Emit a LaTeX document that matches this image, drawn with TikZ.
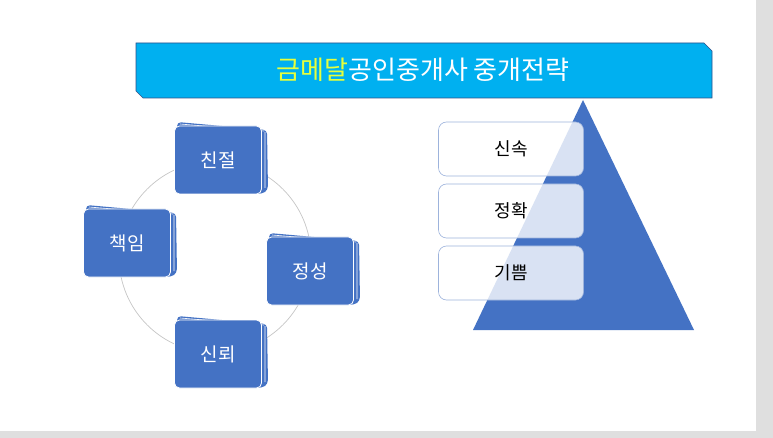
\documentclass[tikz,border=0pt]{standalone}
\usepackage{fontspec}
\setmainfont{Noto Sans CJK KR}
\begin{document}
\begin{tikzpicture}[x=1pt,y=-1pt,
  cube/.style={fill=cubeblue,draw=white,line width=0.8pt,rounded corners=5pt,minimum width=87pt,minimum height=68pt,text=white,font=\fontsize{19}{19}\selectfont},
  tier/.style={fill=white,fill opacity=0.8,text opacity=1,draw=tierborder,line width=0.6pt,rounded corners=8pt,minimum width=145pt,minimum height=54pt,font=\fontsize{18}{18}\selectfont}]
\definecolor{cubeblue}{HTML}{4472C4}
\definecolor{banner}{HTML}{00B0F0}
\definecolor{tierborder}{HTML}{9DB3DC}
\fill[white] (0,0) rectangle (773,438);
\fill[gray!25] (756,0) rectangle (773,438);
\fill[gray!25] (0,431) rectangle (773,438);
% banner
\draw[fill=banner,draw=cubeblue!70!black,line width=0.6pt] (136,43) -- (704,43) -- (712,51) -- (712,98) -- (143,98) -- (136,91) -- cycle;
\node[font=\fontsize{26}{26}\selectfont,text=white] (title) at (423,70) {\textcolor[HTML]{E6FF3C}{금메달}공인중개사 중개전략};
% circle
\draw[gray!45,line width=0.7pt] (215,257) circle (96);
% cubes
\foreach \n/\x/\y/\t in {a/218/160/친절, b/127/243/책임, c/310/271/정성, d/218/354/신뢰}{
  \fill[cubeblue,rounded corners=4pt] (\x-41,\y-38) -- (\x+49,\y-30) -- (\x+50,\y+30) -- (\x+44,\y+34) -- (\x-40,\y+30) -- cycle;
  \draw[white,line width=0.6pt] (\x-38,\y-36) -- (\x+46,\y-29) (\x+47,\y-28) -- (\x+47,\y+28);
  \node[cube] (\n) at (\x,\y) {\t};
}
% pyramid
\fill[cubeblue] (583,100) coordinate (apex) -- (694,330) -- (473,330) -- cycle;
\node[tier] (t1) at (511,149) {신속};
\node[tier] (t2) at (511,211) {정확};
\node[tier] (t3) at (511,273) {기쁨};
\end{tikzpicture}
\end{document}
